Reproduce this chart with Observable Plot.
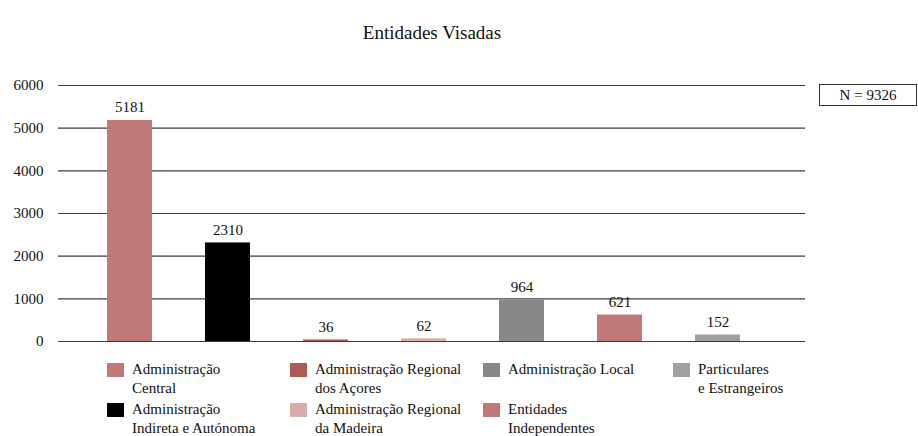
<!DOCTYPE html>
<html>
<head>
<meta charset="utf-8">
<script src="https://cdn.jsdelivr.net/npm/d3@7"></script>
<script src="https://cdn.jsdelivr.net/npm/@observablehq/plot@0.6"></script>
<style>
  html, body { margin: 0; padding: 0; background: #fff; }
  #page { position: relative; width: 918px; height: 436px; overflow: hidden;
          font-family: 'Liberation Serif', serif; color: #111; }
  #title { position: absolute; left: 0; width: 864px; top: 22px; text-align: center; font-size: 19px; }
  #chart { position: absolute; left: 0; top: 60px; }
  #nbox { position: absolute; left: 819px; top: 84px; width: 96px; height: 20px; border: 1px solid #333;
          font-size: 15px; text-align: center; line-height: 20px; box-sizing: content-box; }
  .leg { position: absolute; font-size: 15px; line-height: 19px; }
  .sw { position: absolute; width: 17px; height: 14px; }
</style>
</head>
<body>
<div id="page">
  <div id="title">Entidades Visadas</div>
  <div id="chart"></div>
  <div id="nbox">N = 9326</div>
  <div id="legend"></div>
</div>
<script>
const categories = [
  "Administração Central",
  "Administração Indireta e Autónoma",
  "Administração Regional dos Açores",
  "Administração Regional da Madeira",
  "Administração Local",
  "Entidades Independentes",
  "Particulares e Estrangeiros"
];
const values = [5181, 2310, 36, 62, 964, 621, 152];
const colors = ["#bf7a78", "#000000", "#b05a58", "#d9aba9", "#888888", "#bf7a78", "#a0a0a0"];
const legendLines = [
  ["Administração", "Central"],
  ["Administração", "Indireta e Autónoma"],
  ["Administração Regional", "dos Açores"],
  ["Administração Regional", "da Madeira"],
  ["Administração Local"],
  ["Entidades", "Independentes"],
  ["Particulares", "e Estrangeiros"]
];
const yTicks = [0, 1000, 2000, 3000, 4000, 5000, 6000];

const data = categories.map((c, i) => ({category: c, value: values[i], color: colors[i]}));

const chart = Plot.plot({
  width: 918,
  height: 300,
  marginLeft: 58,
  marginRight: 113,
  marginTop: 25,
  marginBottom: 19,
  style: {fontFamily: "'Liberation Serif', serif", fontSize: "15px", color: "#111", background: "transparent"},
  x: {type: "band", domain: categories, range: [80.5, 766.5], paddingInner: 0.54, paddingOuter: 0.27, axis: null},
  y: {domain: [0, 6000], ticks: yTicks, tickSize: 0, tickPadding: 15, tickFormat: d => String(d), label: null},
  color: {type: "identity"},
  marks: [
    Plot.gridY(yTicks, {stroke: "#3a3a3a", strokeOpacity: 1, strokeWidth: 1.2}),
    Plot.barY(data, {x: "category", y: "value", fill: "color"}),
    Plot.text(data, {x: "category", y: "value", text: d => String(d.value), dy: -8, lineAnchor: "bottom", fill: "#111", fontSize: 15})
  ]
});
document.getElementById("chart").appendChild(chart);

const colX = [107, 290, 483, 673];
const rowY = [363, 403];
const legend = document.getElementById("legend");
categories.forEach((c, i) => {
  const col = Math.floor(i / 2), row = i % 2;
  const sw = document.createElement("div");
  sw.className = "sw";
  sw.style.left = colX[col] + "px";
  sw.style.top = rowY[row] + "px";
  sw.style.background = colors[i];
  legend.appendChild(sw);
  const t = document.createElement("div");
  t.className = "leg";
  t.style.left = (colX[col] + 25) + "px";
  t.style.top = (rowY[row] - 3) + "px";
  t.innerHTML = legendLines[i].join("<br>");
  legend.appendChild(t);
});
</script>
</body>
</html>
